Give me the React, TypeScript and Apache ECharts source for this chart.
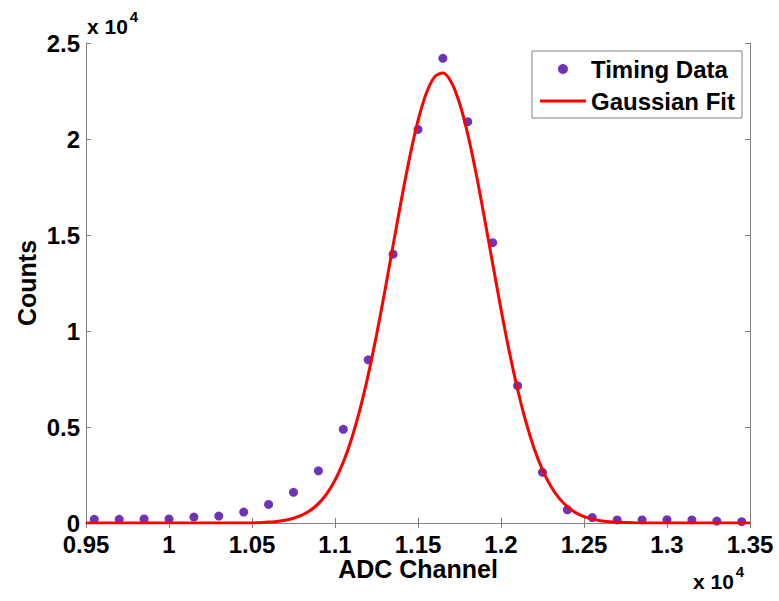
import React, { useEffect, useRef } from "react";
import * as echarts from "echarts";

// Timing data (ADC channel, counts)
const dataX = [9550, 9700, 9850, 10000, 10150, 10300, 10450, 10600, 10750, 10900, 11050, 11200, 11350, 11500, 11650, 11800, 11950, 12100, 12250, 12400, 12550, 12700, 12850, 13000, 13150, 13300, 13450];
const dataY = [190, 190, 210, 210, 310, 360, 570, 970, 1600, 2720, 4880, 8500, 14000, 20500, 24200, 20900, 14600, 7150, 2640, 690, 280, 160, 160, 170, 160, 100, 70];

// Gaussian fit curve
const fitX = [9500, 10000, 10500, 10600, 10650, 10700, 10750, 10800, 10850, 10900, 10950, 11000, 11050, 11100, 11150, 11200, 11250, 11300, 11350, 11400, 11450, 11500, 11550, 11600, 11650, 11700, 11750, 11800, 11850, 11900, 11950, 12000, 12050, 12100, 12150, 12200, 12250, 12300, 12350, 12400, 12450, 12500, 12550, 12600, 12650, 12700, 12800, 13000, 13500];
const fitY = [0, 0, 5, 47, 84, 146, 248, 407, 650, 1009, 1522, 2230, 3173, 4392, 5902, 7711, 9786, 12072, 14464, 16842, 19058, 20953, 22383, 23235, 23437, 22970, 21874, 20242, 18202, 15904, 13500, 11136, 8927, 6953, 5262, 3869, 2765, 1920, 1295, 849, 541, 335, 201, 118, 67, 37, 10, 0, 0];

const xTicks = { min: 9500, max: 13500, interval: 500 };
const yTicks = { min: 0, max: 25000, interval: 5000 };

const FONT = "'Liberation Sans', Arial, Helvetica, sans-serif";

function fmt(v: number) {
  return String(parseFloat((v / 10000).toFixed(3)));
}

export default function App() {
  const ref = useRef<HTMLDivElement>(null);
  useEffect(() => {
    if (!ref.current) return;
    const chart = echarts.init(ref.current, null, { renderer: "svg" });
    const axisLine = { show: true, lineStyle: { color: "#808080", width: 1 } };
    const axisTick = { show: true, inside: true, length: 5, lineStyle: { color: "#808080" } };
    const labelStyle = { color: "#000", fontSize: 24, fontWeight: "bold" as const, fontFamily: FONT };
    const expRich = {
      a: { fontSize: 21, fontWeight: "bold", fontFamily: FONT, fill: "#000", verticalAlign: "bottom", lineHeight: 28 },
      b: { fontSize: 15, fontWeight: "bold", fontFamily: FONT, fill: "#000", verticalAlign: "top", lineHeight: 28, padding: [0, 0, 12, 2] },
    };
    chart.setOption({
      animation: false,
      backgroundColor: "#fff",
      grid: { left: 86, top: 43, right: 29, bottom: 78, containLabel: false },
      xAxis: [
        {
          type: "value",
          ...xTicks,
          position: "bottom",
          axisLine, axisTick,
          splitLine: { show: false },
          axisLabel: { ...labelStyle, margin: 9, formatter: fmt },
        },
        {
          type: "value",
          ...xTicks,
          position: "top",
          axisLine, axisTick,
          splitLine: { show: false },
          axisLabel: { show: false },
        },
      ],
      yAxis: [
        {
          type: "value",
          ...yTicks,
          position: "left",
          axisLine, axisTick,
          splitLine: { show: false },
          axisLabel: { ...labelStyle, margin: 6, padding: [5, 0, 0, 0], formatter: fmt },
        },
        {
          type: "value",
          ...yTicks,
          position: "right",
          axisLine, axisTick,
          splitLine: { show: false },
          axisLabel: { show: false },
        },
      ],
      legend: {
        orient: "vertical",
        right: 37,
        top: 51,
        align: "left",
        padding: [6, 7, 5, 8],
        itemGap: 8,
        itemWidth: 46,
        itemHeight: 10,
        borderColor: "#808080",
        borderWidth: 1,
        borderRadius: 0,
        backgroundColor: "#fff",
        textStyle: { color: "#000", fontSize: 24, fontWeight: "bold", fontFamily: FONT, lineHeight: 24 },
        data: [
          { name: "Timing Data", icon: "circle" },
          { name: "Gaussian Fit", icon: "path://M0,0L46,0L46,3L0,3Z" },
        ],
      },
      graphic: [
        { type: "text", left: 87, top: 9, style: { text: "{a|x 10}{b|4}", rich: expRich } },
        { type: "text", left: 693, top: 564, style: { text: "{a|x 10}{b|4}", rich: expRich } },
        {
          type: "text",
          x: 418,
          y: 569,
          style: { text: "ADC Channel", fontSize: 25, fontWeight: "bold", fontFamily: FONT, fill: "#000", align: "center", verticalAlign: "middle" },
        },
        {
          type: "text",
          x: 27,
          y: 283,
          rotation: Math.PI / 2,
          style: { text: "Counts", fontSize: 25, fontWeight: "bold", fontFamily: FONT, fill: "#000", align: "center", verticalAlign: "middle" },
        },
      ],
      series: [
        {
          name: "Timing Data",
          type: "scatter",
          symbol: "circle",
          symbolSize: 9,
          itemStyle: { color: "#4A00A8" },
          data: dataX.map((x, i) => [x, dataY[i]]),
          z: 2,
        },
        {
          name: "Gaussian Fit",
          type: "line",
          showSymbol: false,
          symbol: "none",
          smooth: 0.3,
          lineStyle: { color: "#FF0000", width: 3 },
          itemStyle: { color: "#FF0000" },
          data: fitX.map((x, i) => [x, fitY[i]]),
          z: 3,
        },
      ],
    });
    return () => chart.dispose();
  }, []);
  return <div ref={ref} style={{ width: 779, height: 601, position: "absolute", left: 0, top: 0 }} />;
}
